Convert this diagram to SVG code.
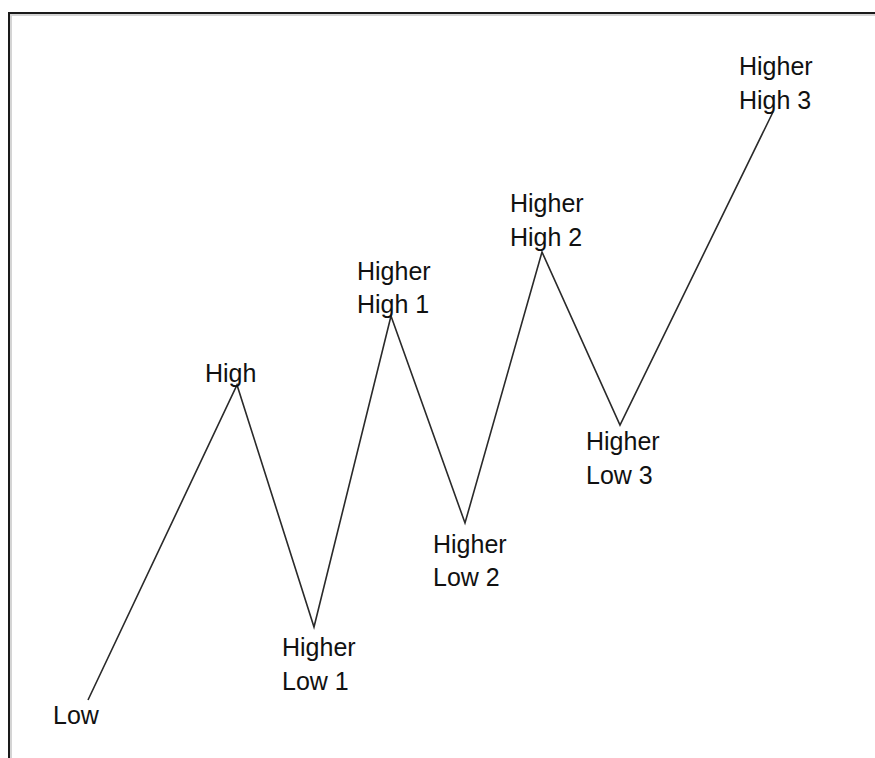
<svg xmlns="http://www.w3.org/2000/svg" width="875" height="758" viewBox="0 0 875 758">
<style>
.lbl{font-family:"Liberation Sans",Arial,sans-serif;font-size:25px;fill:#111}
.zig{fill:none;stroke:#2a2a2a;stroke-width:1.6;stroke-linejoin:miter}
</style>
<rect width="875" height="758" fill="#fff"/>
<path d="M11,758 V15 H875" fill="none" stroke="#d4d4d4" stroke-width="2"/>
<path d="M9,758 V13 H875" fill="none" stroke="#1a1a1a" stroke-width="2"/>
<g id="connectors">
<polyline class="zig" points="88,700 237,385 314,627 391,316 465,523 542,252 620,425 773,112"/>
</g>
<g id="low"><text class="lbl" x="53" y="724">Low</text></g>
<g id="high"><text class="lbl" x="205" y="382">High</text></g>
<g id="hl1"><text class="lbl" x="282" y="656">Higher</text><text class="lbl" x="282" y="690">Low 1</text></g>
<g id="hh1"><text class="lbl" x="357" y="280">Higher</text><text class="lbl" x="357" y="313">High 1</text></g>
<g id="hl2"><text class="lbl" x="433" y="553">Higher</text><text class="lbl" x="433" y="586">Low 2</text></g>
<g id="hh2"><text class="lbl" x="510" y="212">Higher</text><text class="lbl" x="510" y="246">High 2</text></g>
<g id="hl3"><text class="lbl" x="586" y="450">Higher</text><text class="lbl" x="586" y="484">Low 3</text></g>
<g id="hh3"><text class="lbl" x="739" y="75">Higher</text><text class="lbl" x="739" y="109">High 3</text></g>
</svg>
